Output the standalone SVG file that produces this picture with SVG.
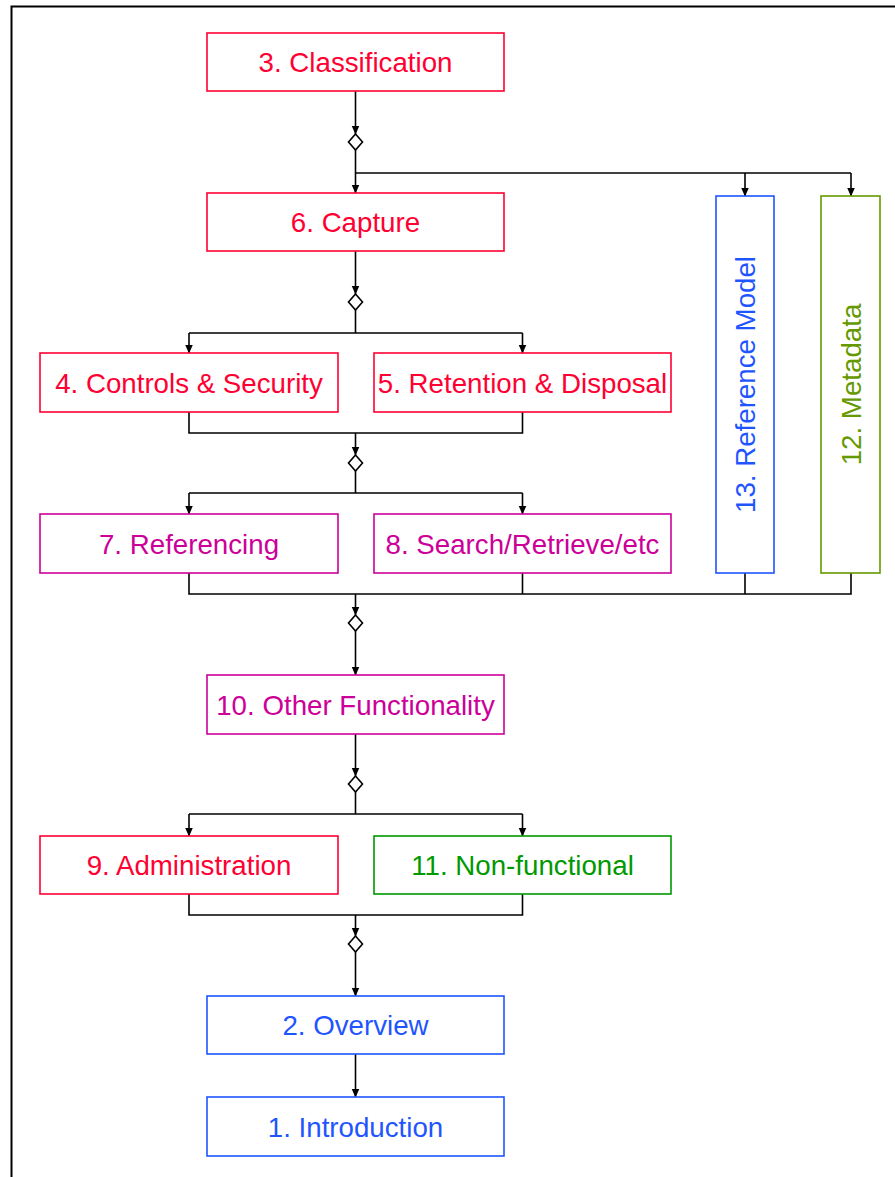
<svg xmlns="http://www.w3.org/2000/svg" width="895" height="1177" viewBox="0 0 895 1177">
<style>
.box{fill:#fff;stroke-width:1.6}
.t{font-family:"Liberation Sans",Arial,sans-serif;font-size:27.7px;text-anchor:middle}
.red{stroke:#ff0033}.redt{fill:#ff0033}
.mag{stroke:#cc0099}.magt{fill:#cc0099}
.blue{stroke:#1f55ff}.bluet{fill:#1f55ff}
.grn{stroke:#009900}.grnt{fill:#009900}
.olv{stroke:#669900}.olvt{fill:#669900}
.ln{fill:none;stroke:#000;stroke-width:1.6}
.dia{fill:#fff;stroke:#000;stroke-width:1.6}
</style>
<defs>
<marker id="ah" markerWidth="9" markerHeight="10" refX="8.5" refY="5" orient="auto" markerUnits="userSpaceOnUse">
<path d="M0,1 L9,5 L0,9 Z" fill="#000"/>
</marker>
</defs>
<rect x="11.5" y="6.5" width="1000" height="1300" fill="none" stroke="#000" stroke-width="2"/>
<g id="connectors">
<line class="ln" x1="355.5" y1="91" x2="355.5" y2="134" marker-end="url(#ah)"/>
<polygon class="dia" points="355.5,134 362.5,142 355.5,150 348.5,142"/>
<line class="ln" x1="355.5" y1="150" x2="355.5" y2="193" marker-end="url(#ah)"/>
<path class="ln" d="M355.5,173 H851"/>
<line class="ln" x1="745" y1="173" x2="745" y2="196" marker-end="url(#ah)"/>
<line class="ln" x1="851" y1="173" x2="851" y2="196" marker-end="url(#ah)"/>

<line class="ln" x1="355.5" y1="251" x2="355.5" y2="294" marker-end="url(#ah)"/>
<polygon class="dia" points="355.5,294 362.5,302 355.5,310 348.5,302"/>
<path class="ln" d="M355.5,310 V333 M189,333 H522.5"/>
<line class="ln" x1="189" y1="333" x2="189" y2="353" marker-end="url(#ah)"/>
<line class="ln" x1="522.5" y1="333" x2="522.5" y2="353" marker-end="url(#ah)"/>

<path class="ln" d="M189,412 V433 H522.5 V412"/>
<line class="ln" x1="355.5" y1="433" x2="355.5" y2="455" marker-end="url(#ah)"/>
<polygon class="dia" points="355.5,455 362.5,463 355.5,471 348.5,463"/>
<path class="ln" d="M355.5,471 V493 M189,493 H522.5"/>
<line class="ln" x1="189" y1="493" x2="189" y2="514" marker-end="url(#ah)"/>
<line class="ln" x1="522.5" y1="493" x2="522.5" y2="514" marker-end="url(#ah)"/>

<path class="ln" d="M189,573 V594 H851 V573 M522.5,573 V594 M745,573 V594"/>
<line class="ln" x1="355.5" y1="594" x2="355.5" y2="615" marker-end="url(#ah)"/>
<polygon class="dia" points="355.5,615 362.5,623 355.5,631 348.5,623"/>
<line class="ln" x1="355.5" y1="631" x2="355.5" y2="675" marker-end="url(#ah)"/>

<line class="ln" x1="355.5" y1="734" x2="355.5" y2="776" marker-end="url(#ah)"/>
<polygon class="dia" points="355.5,776 362.5,784 355.5,792 348.5,784"/>
<path class="ln" d="M355.5,792 V814 M189,814 H522.5"/>
<line class="ln" x1="189" y1="814" x2="189" y2="836" marker-end="url(#ah)"/>
<line class="ln" x1="522.5" y1="814" x2="522.5" y2="836" marker-end="url(#ah)"/>

<path class="ln" d="M189,894 V915 H522.5 V894"/>
<line class="ln" x1="355.5" y1="915" x2="355.5" y2="936" marker-end="url(#ah)"/>
<polygon class="dia" points="355.5,936 362.5,944 355.5,952 348.5,944"/>
<line class="ln" x1="355.5" y1="952" x2="355.5" y2="996" marker-end="url(#ah)"/>

<line class="ln" x1="355.5" y1="1054" x2="355.5" y2="1097" marker-end="url(#ah)"/>
</g>

<g id="n3"><rect class="box red" x="207" y="33" width="297" height="58"/><text class="t redt" x="355.5" y="72">3. Classification</text></g>
<g id="n6"><rect class="box red" x="207" y="193" width="297" height="58"/><text class="t redt" x="355.5" y="232">6. Capture</text></g>
<g id="n4"><rect class="box red" x="40" y="353" width="298" height="59"/><text class="t redt" x="189" y="393">4. Controls &amp; Security</text></g>
<g id="n5"><rect class="box red" x="374" y="353" width="297" height="59"/><text class="t redt" x="522.5" y="393">5. Retention &amp; Disposal</text></g>
<g id="n7"><rect class="box mag" x="40" y="514" width="298" height="59"/><text class="t magt" x="189" y="554">7. Referencing</text></g>
<g id="n8"><rect class="box mag" x="374" y="514" width="297" height="59"/><text class="t magt" x="522.5" y="554">8. Search/Retrieve/etc</text></g>
<g id="n13"><rect class="box blue" x="716" y="196" width="58" height="377"/><text class="t bluet" transform="translate(755,384.5) rotate(-90)">13. Reference Model</text></g>
<g id="n12"><rect class="box olv" x="821" y="196" width="59" height="377"/><text class="t olvt" transform="translate(861,384.5) rotate(-90)">12. Metadata</text></g>
<g id="n10"><rect class="box mag" x="207" y="675" width="297" height="59"/><text class="t magt" x="355.5" y="715">10. Other Functionality</text></g>
<g id="n9"><rect class="box red" x="40" y="836" width="298" height="58"/><text class="t redt" x="189" y="875">9. Administration</text></g>
<g id="n11"><rect class="box grn" x="374" y="836" width="297" height="58"/><text class="t grnt" x="522.5" y="875">11. Non-functional</text></g>
<g id="n2"><rect class="box blue" x="207" y="996" width="297" height="58"/><text class="t bluet" x="355.5" y="1035">2. Overview</text></g>
<g id="n1"><rect class="box blue" x="207" y="1097" width="297" height="59"/><text class="t bluet" x="355.5" y="1137">1. Introduction</text></g>
</svg>
